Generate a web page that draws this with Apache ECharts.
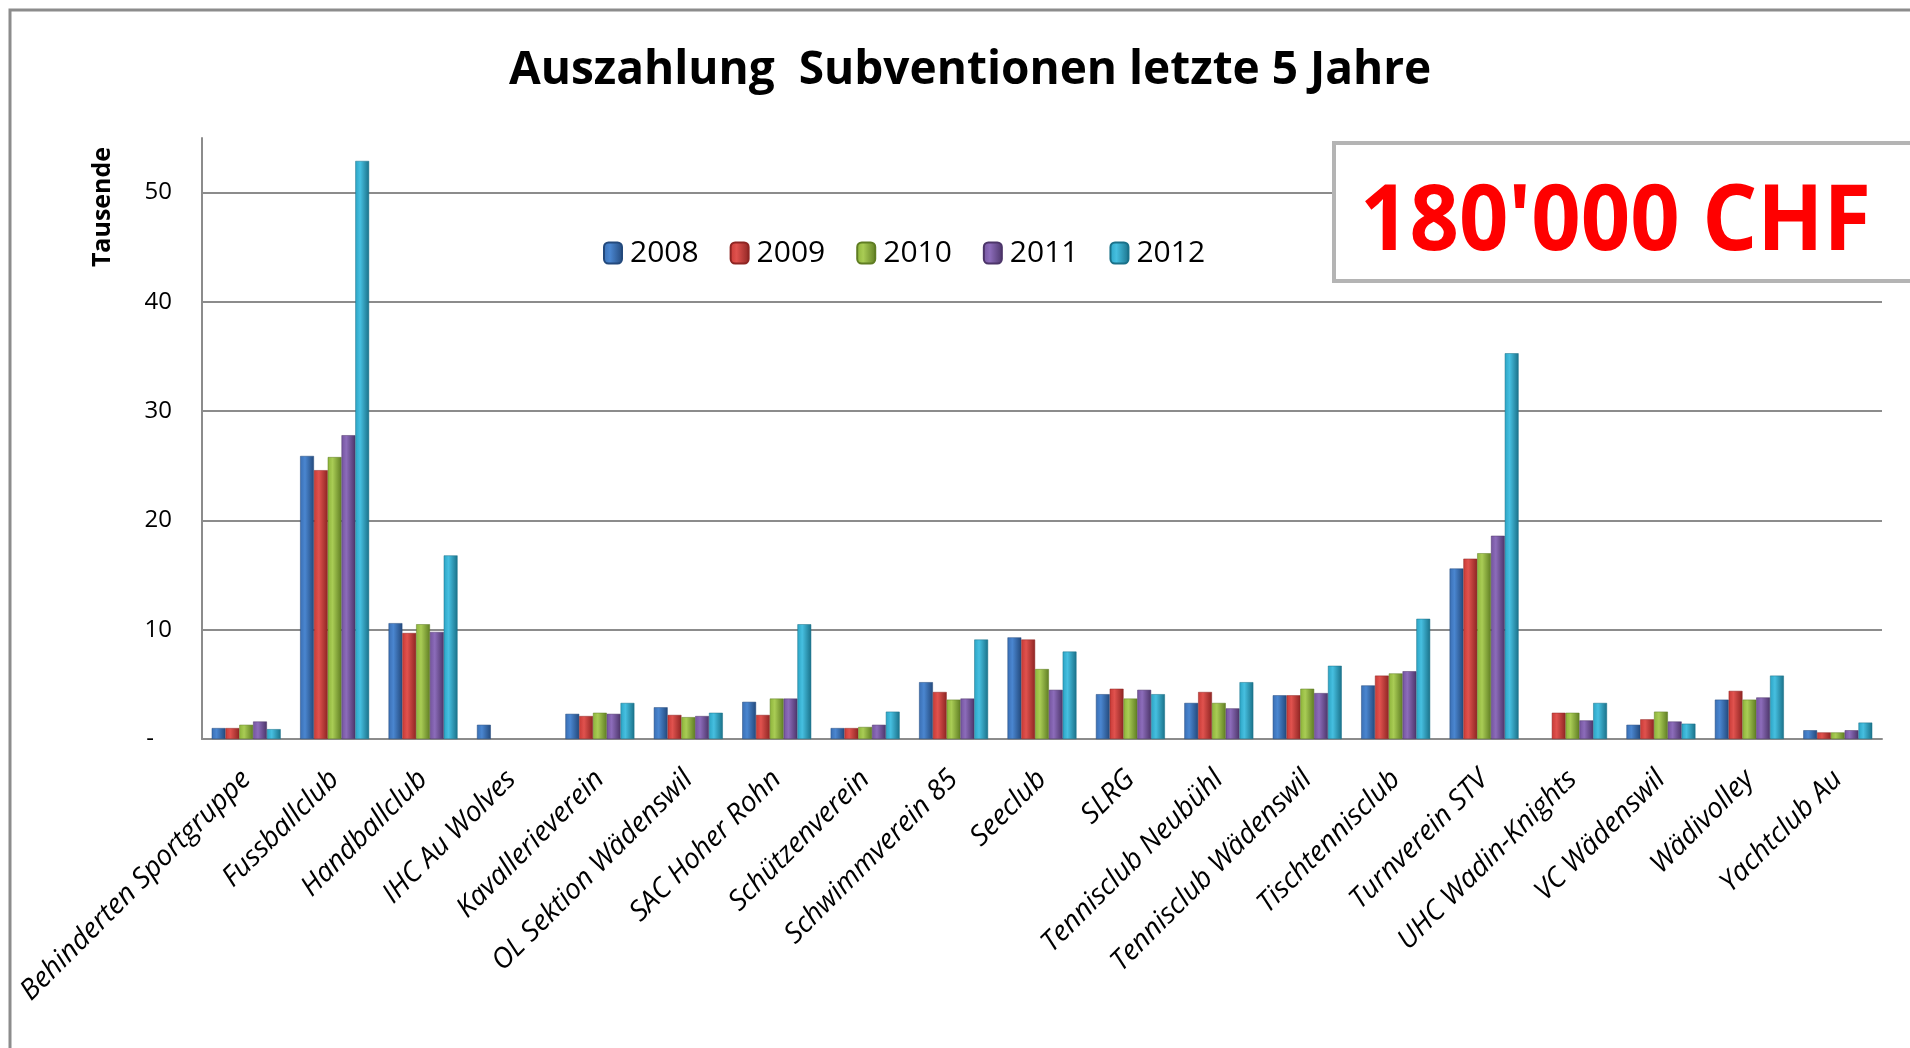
<!DOCTYPE html>
<html>
<head>
<meta charset="utf-8">
<script src="https://cdn.jsdelivr.net/npm/echarts@6/dist/echarts.min.js"></script>
<style>
  html, body { margin: 0; padding: 0; background: #fff; }
  #chart { width: 1910px; height: 1048px; }
</style>
</head>
<body>
<div id="chart"></div>
<script>
const categories = [
  'Behinderten Sportgruppe', 'Fussballclub', 'Handballclub', 'IHC Au Wolves',
  'Kavallerieverein', 'OL Sektion Wädenswil', 'SAC Hoher Rohn', 'Schützenverein',
  'Schwimmverein 85', 'Seeclub', 'SLRG', 'Tennisclub Neubühl',
  'Tennisclub Wädenswil', 'Tischtennisclub', 'Turnverein STV', 'UHC Wadin-Knights',
  'VC Wädenswil', 'Wädivolley', 'Yachtclub Au'
]

const years = ['2008', '2009', '2010', '2011', '2012']

// values in thousands CHF
const v2008 = [1.0, 25.9, 10.6, 1.3, 2.3, 2.9, 3.4, 1.0, 5.2, 9.3, 4.1, 3.3, 4.0, 4.9, 15.6, null, 1.3, 3.6, 0.8]
const v2009 = [1.0, 24.6, 9.7, null, 2.1, 2.2, 2.2, 1.0, 4.3, 9.1, 4.6, 4.3, 4.0, 5.8, 16.5, 2.4, 1.8, 4.4, 0.6]
const v2010 = [1.3, 25.8, 10.5, null, 2.4, 2.0, 3.7, 1.1, 3.6, 6.4, 3.7, 3.3, 4.6, 6.0, 17.0, 2.4, 2.5, 3.6, 0.6]
const v2011 = [1.6, 27.8, 9.8, null, 2.3, 2.1, 3.7, 1.3, 3.7, 4.5, 4.5, 2.8, 4.2, 6.2, 18.6, 1.7, 1.6, 3.8, 0.8]
const v2012 = [0.9, 52.9, 16.8, null, 3.3, 2.4, 10.5, 2.5, 9.1, 8.0, 4.1, 5.2, 6.7, 11.0, 35.3, 3.3, 1.4, 5.8, 1.5]

const seriesValues = [v2008, v2009, v2010, v2011, v2012]

const colors = [
  ['#4a86d0', '#3a6fb4', '#23497c'],
  ['#e0524e', '#c83a36', '#8e2523'],
  ['#a9cc55', '#8db43a', '#5f7d23'],
  ['#8c6cba', '#74549e', '#4c3569'],
  ['#46bfe0', '#2ba4c4', '#1a7189']
]

function barFill(c) {
  return new echarts.graphic.LinearGradient(0, 0, 1, 0, [
    { offset: 0, color: c[1] },
    { offset: 0.35, color: c[0] },
    { offset: 1, color: c[2] }
  ])
}

const chart = echarts.init(document.getElementById('chart'))

chart.setOption({
  animation: false,
  title: {
    text: 'Auszahlung  Subventionen letzte 5 Jahre',
    left: 504,
    top: 43,
    textStyle: {
      fontFamily: '"Open Sans", sans-serif',
      fontSize: 46,
      fontWeight: 'bold',
      color: '#000'
    }
  },
  legend: {
    data: years,
    left: 598,
    top: 233,
    itemWidth: 18,
    itemHeight: 21,
    itemGap: 31,
    textStyle: {
      fontFamily: '"Open Sans", sans-serif',
      fontSize: 30,
      color: '#000',
      padding: [0, 0, 0, 3]
    }
  },
  grid: {
    left: 202,
    top: 138,
    right: 28,
    bottom: 309
  },
  xAxis: {
    type: 'category',
    data: categories,
    axisLine: { lineStyle: { color: '#8c8c8c', width: 2 } },
    axisTick: { show: false },
    axisLabel: {
      interval: 0,
      rotate: 45,
      margin: 36,
      fontFamily: '"Open Sans", sans-serif',
      fontStyle: 'italic',
      fontSize: 28,
      color: '#000'
    }
  },
  yAxis: {
    type: 'value',
    min: 0,
    max: 55,
    interval: 10,
    axisLine: { show: true, lineStyle: { color: '#8c8c8c', width: 2 } },
    axisTick: { show: false },
    splitLine: { showMaxLine: false, lineStyle: { color: '#8c8c8c', width: 2 } },
    axisLabel: {
      margin: 30,
      showMaxLabel: false,
      fontFamily: '"Open Sans", sans-serif',
      fontSize: 24,
      color: '#000',
      formatter: v => (v === 0 ? '{d|-}' : v === 55 ? '' : String(v)),
      rich: { d: { fontSize: 24, padding: [0, 18, 0, 0] } }
    }
  },
  graphic: [
    {
      type: 'rect',
      z: 100,
      shape: { x: 10, y: 10, width: 1960, height: 1100 },
      style: { fill: 'none', stroke: '#8c8c8c', lineWidth: 3 }
    },
    {
      type: 'text',
      z: 100,
      x: 103,
      y: 207,
      rotation: Math.PI / 2,
      style: {
        text: 'Tausende',
        align: 'center',
        verticalAlign: 'middle',
        fontFamily: '"Open Sans", sans-serif',
        fontWeight: 'bold',
        fontSize: 25,
        fill: '#000'
      }
    },
    {
      type: 'rect',
      z: 100,
      shape: { x: 1334, y: 143, width: 700, height: 138 },
      style: { fill: '#fff', stroke: '#b4b4b4', lineWidth: 4 }
    },
    {
      type: 'text',
      z: 101,
      x: 1360,
      y: 224,
      scaleX: 0.94,
      style: {
        text: "180'000 CHF",
        align: 'left',
        verticalAlign: 'middle',
        fontFamily: '"Open Sans", sans-serif',
        fontWeight: 'bold',
        fontSize: 92,
        fill: '#ff0000'
      }
    }
  ],
  series: years.map((y, i) => ({
    name: y,
    type: 'bar',
    data: seriesValues[i],
    barGap: '0%',
    barCategoryGap: '22%',
    itemStyle: {
      color: barFill(colors[i]),
      borderColor: colors[i][2],
      borderWidth: 0.5
    }
  }))
})
</script>
</body>
</html>
